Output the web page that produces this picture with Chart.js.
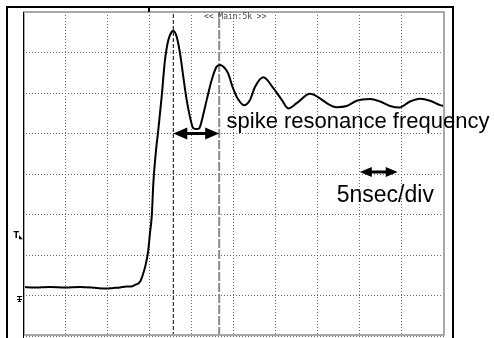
<!DOCTYPE html>
<html>
<head>
<meta charset="utf-8">
<script src="https://cdn.jsdelivr.net/npm/chart.js@4.4.1/dist/chart.umd.min.js"></script>
<style>
  html, body { margin: 0; padding: 0; background: #fff; }
  #wrap { width: 494px; height: 338px; }
</style>
</head>
<body>
<div id="wrap"><canvas id="scope" width="494" height="338"></canvas></div>
<script>
// time axis in ns (5 ns/div, 10 div), vertical in divisions (8 div)
const timeNs = [
  0, 1.43, 3.21, 4.99, 6.77, 8.55, 9.74, 10.93, 11.52, 12.32, 12.83, 13.30, 13.90,
  14.29, 14.61, 14.88, 15.08, 15.29, 15.48, 15.80, 16.07, 16.47, 16.86, 17.26, 17.66,
  17.85, 18.25, 18.65, 19.04, 19.44, 19.83, 20.23, 20.63, 20.94, 21.34, 21.82, 22.41,
  23.00, 23.40, 23.99, 24.35, 24.94, 25.53, 26.25, 26.96, 27.55, 28.54, 29.73, 30.73,
  31.51, 32.51, 34.09, 35.27, 36.07, 37.26, 38.44, 39.63, 41.21, 42.40, 43.59, 44.69,
  45.96, 47.15, 48.34, 49.52, 50.0
];
const traceDiv = [
  1.21, 1.20, 1.21, 1.20, 1.21, 1.19, 1.17, 1.19, 1.20, 1.22, 1.22, 1.26, 1.34,
  1.55, 1.80, 2.12, 2.54, 2.95, 3.77, 4.59, 5.09, 5.91, 6.81, 7.31, 7.51,
  7.54, 7.39, 6.98, 6.40, 5.83, 5.41, 5.13, 5.11, 5.13, 5.41, 5.83, 6.32,
  6.65, 6.69, 6.61, 6.49, 6.12, 5.85, 5.70, 5.83, 6.15, 6.39, 6.12, 5.83,
  5.62, 5.75, 5.98, 5.87, 5.75, 5.65, 5.68, 5.81, 5.85, 5.79, 5.68, 5.64,
  5.79, 5.86, 5.81, 5.70, 5.68
];
const cursorA = 17.85;   // black dashed cursor
const cursorB = 23.3;    // grey cursor
const triggerNs = 15;
const triggerLevel = 2.44;
const groundLevel = 0.94;

const resonanceArrow = { from: cursorA, to: cursorB, level: 5 };
const divArrow = { from: 40.0, to: 44.5, level: 4.05 };
const labels = [
  { text: 'spike resonance frequency', t: 24.17, v: 5.14, size: 22 },
  { text: '5nsec/div', t: 37.26, v: 3.32, size: 23 }
];

const trace = timeNs.map((t, i) => ({ x: t, y: traceDiv[i] }));

function arrow(ctx, x1, x2, y, head, half, shaft) {
  ctx.beginPath();
  ctx.moveTo(x1, y);
  ctx.lineTo(x1 + head, y - half);
  ctx.lineTo(x1 + head, y + half);
  ctx.closePath();
  ctx.moveTo(x2, y);
  ctx.lineTo(x2 - head, y - half);
  ctx.lineTo(x2 - head, y + half);
  ctx.closePath();
  ctx.fill();
  ctx.fillRect(x1 + head - 1, y - shaft / 2, x2 - x1 - 2 * head + 2, shaft);
}

const scopeOverlay = {
  id: 'scopeOverlay',
  afterDraw(chart) {
    const { ctx, chartArea: a, scales: { x, y } } = chart;
    ctx.save();

    // screen frame
    ctx.strokeStyle = '#a8a8a8';
    ctx.lineWidth = 2;
    ctx.strokeRect(a.left + 1, a.top, a.right - a.left - 1, a.bottom - a.top - 1);
    ctx.strokeStyle = '#000';
    ctx.lineWidth = 1;
    ctx.beginPath();
    ctx.moveTo(a.left + 0.5, a.top);
    ctx.lineTo(a.left + 0.5, chart.height);
    ctx.stroke();

    // outer border
    ctx.lineWidth = 2;
    ctx.beginPath();
    ctx.moveTo(a.left - 16, chart.height);
    ctx.lineTo(a.left - 16, a.top - 5);
    ctx.lineTo(a.right + 9, a.top - 5);
    ctx.lineTo(a.right + 9, chart.height);
    ctx.stroke();

    // trigger position mark
    ctx.fillStyle = '#000';
    ctx.fillRect(Math.round(x.getPixelForValue(triggerNs)) - 1, a.top - 5, 2, 5);

    // header
    ctx.fillStyle = '#444';
    ctx.font = '8px "DejaVu Sans Mono", monospace';
    ctx.textAlign = 'center';
    ctx.textBaseline = 'middle';
    ctx.fillText('<< Main:5k >>', x.getPixelForValue(25.2), a.top + 5);

    // trigger level & ground markers
    ctx.fillStyle = '#000';
    ctx.font = 'bold 8px "DejaVu Sans", sans-serif';
    ctx.textAlign = 'right';
    const ty = y.getPixelForValue(triggerLevel);
    ctx.fillText('T', a.left - 4, ty - 1);
    ctx.beginPath();
    ctx.moveTo(a.left - 4, ty - 2);
    ctx.lineTo(a.left, ty + 2);
    ctx.lineTo(a.left - 4, ty + 2);
    ctx.closePath();
    ctx.fill();
    const gy = Math.round(y.getPixelForValue(groundLevel));
    ctx.fillRect(a.left - 6, gy - 2, 5, 1);
    ctx.fillRect(a.left - 4, gy - 2, 1, 6);
    ctx.fillRect(a.left - 6, gy + 1, 5, 1);
    ctx.fillRect(a.left - 5, gy + 3, 3, 1);

    // arrows
    ctx.fillStyle = '#000';
    arrow(ctx, x.getPixelForValue(resonanceArrow.from), x.getPixelForValue(resonanceArrow.to),
      y.getPixelForValue(resonanceArrow.level), 14, 6, 3);
    arrow(ctx, x.getPixelForValue(divArrow.from), x.getPixelForValue(divArrow.to),
      y.getPixelForValue(divArrow.level), 12, 5, 3);

    // annotations
    ctx.textAlign = 'left';
    ctx.textBaseline = 'alphabetic';
    labels.forEach(l => {
      ctx.font = l.size + 'px "Liberation Sans", Arial, sans-serif';
      ctx.fillText(l.text, x.getPixelForValue(l.t), y.getPixelForValue(l.v));
    });

    ctx.restore();
  }
};

const axisGrid = {
  color: '#6a6a6a',
  lineWidth: 1,
  drawTicks: false
};

new Chart(document.getElementById('scope'), {
  type: 'line',
  data: {
    datasets: [
      {
        label: 'CH1',
        data: trace,
        borderColor: '#000',
        borderWidth: 2,
        pointRadius: 0,
        cubicInterpolationMode: 'monotone'
      },
      {
        label: 'cursor A',
        data: [{ x: cursorA, y: 0 }, { x: cursorA, y: 8 }],
        borderColor: '#000',
        borderWidth: 1,
        borderDash: [4, 2],
        pointRadius: 0
      },
      {
        label: 'cursor B',
        data: [{ x: cursorB, y: 0 }, { x: cursorB, y: 8 }],
        borderColor: '#8a8a8a',
        borderWidth: 2,
        borderDash: [9, 2],
        pointRadius: 0
      }
    ]
  },
  options: {
    responsive: false,
    animation: false,
    devicePixelRatio: 1,
    layout: { padding: { left: 23, right: 50, top: 12, bottom: 2 } },
    plugins: { legend: { display: false }, tooltip: { enabled: false } },
    scales: {
      x: {
        type: 'linear',
        min: 0,
        max: 50,
        ticks: { display: false, stepSize: 5 },
        grid: axisGrid,
        border: { display: false, dash: [1, 2] }
      },
      y: {
        min: 0,
        max: 8,
        ticks: { display: false, stepSize: 1 },
        grid: axisGrid,
        border: { display: false, dash: [1, 2] }
      }
    }
  },
  plugins: [scopeOverlay]
});
</script>
</body>
</html>
